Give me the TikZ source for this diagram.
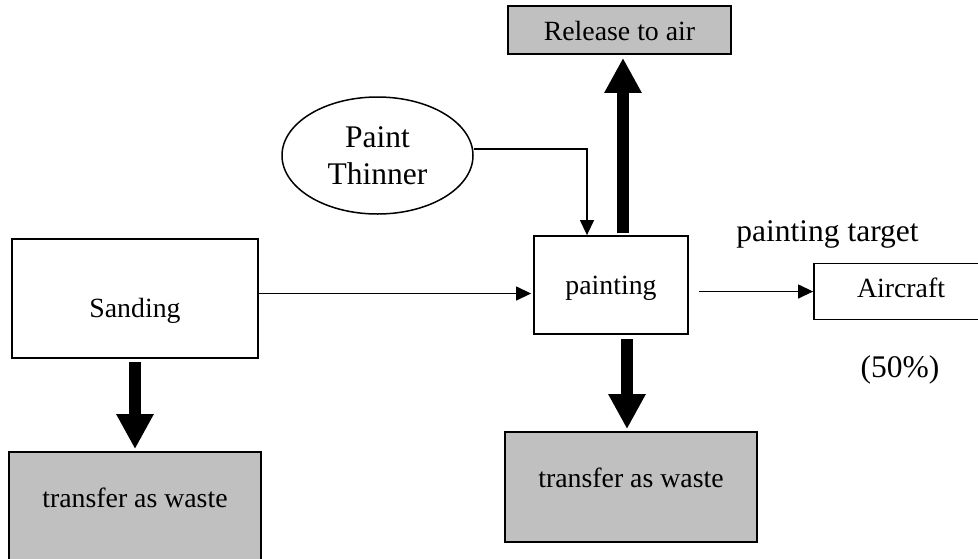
\documentclass[tikz,border=0pt]{standalone}
\usepackage{fontspec}
\setmainfont{Liberation Serif}
\usetikzlibrary{arrows.meta,shapes.geometric}
\definecolor{boxgray}{HTML}{C0C0C0}
\newcommand\smallfnt{\fontsize{27.8}{33}\selectfont}
\newcommand\largefnt{\fontsize{31.5}{37}\selectfont}
\tikzset{
  box/.style={draw=black, line width=1.8pt, rectangle, inner sep=0pt, text depth=0pt, font=\smallfnt},
  graybox/.style={box, fill=boxgray},
  thinarrow/.style={line width=1.3pt, -{Triangle[length=15pt,width=14pt]}},
  thickarrow/.style={line width=12pt, -{Triangle[length=35pt,width=35pt]}},
  plaintext/.style={inner sep=0pt, anchor=base, font=\largefnt},
}
\begin{document}
\begin{tikzpicture}[x=1pt,y=-1pt]
\useasboundingbox (0,0) rectangle (978,558);
\clip (0,0) rectangle (978,558);
\node[graybox, minimum width=223pt, minimum height=48pt, text height=20pt] (release) at (619.5,30) {Release to air};
\node[draw=black, line width=1.5pt, ellipse, inner sep=0pt, minimum width=191pt, minimum height=117pt, align=center, font=\largefnt] (thinner) at (377.5,155.5) {Paint\\Thinner};
\node[box, minimum width=154pt, minimum height=98pt, text height=18pt] (paint) at (611,285) {painting};
\node[box, minimum width=246pt, minimum height=119pt, text height=37pt] (sanding) at (135,298.5) {Sanding};
\node[box, minimum width=174pt, minimum height=56pt, text height=11pt] (air) at (901,291.5) {Aircraft};
\node[graybox, minimum width=252pt, minimum height=110pt, text height=0pt] (waste1) at (135,507) {transfer as waste};
\node[graybox, minimum width=252pt, minimum height=110pt, text height=0pt] (waste2) at (631,487) {transfer as waste};
\node[plaintext] (target) at (827.5,241) {painting target};
\node[plaintext] (pct) at (900,377) {(50\%)};
% thin connectors
\draw[thinarrow] ([yshift=6.5pt]thinner.east) -| ([xshift=-24pt]paint.north);
\draw[thinarrow, shorten >=2pt] ([yshift=5pt]sanding.east) -- ([yshift=5pt]sanding.east -| paint.west);
\draw[thinarrow, shorten <=10pt] (air.west -| paint.east) -- (air.west);
% thick flows
\draw[thickarrow, shorten <=3pt, shorten >=2pt] (sanding.south) -- (waste1.north);
\draw[thickarrow, shorten <=2pt, shorten >=3pt] ([xshift=12pt]paint.north) -- ([xshift=12pt]paint.north |- release.south);
\draw[thickarrow, shorten <=4pt, shorten >=2pt] ([xshift=16pt]paint.south) -- ([xshift=16pt]paint.south |- waste2.north);
\end{tikzpicture}
\end{document}
